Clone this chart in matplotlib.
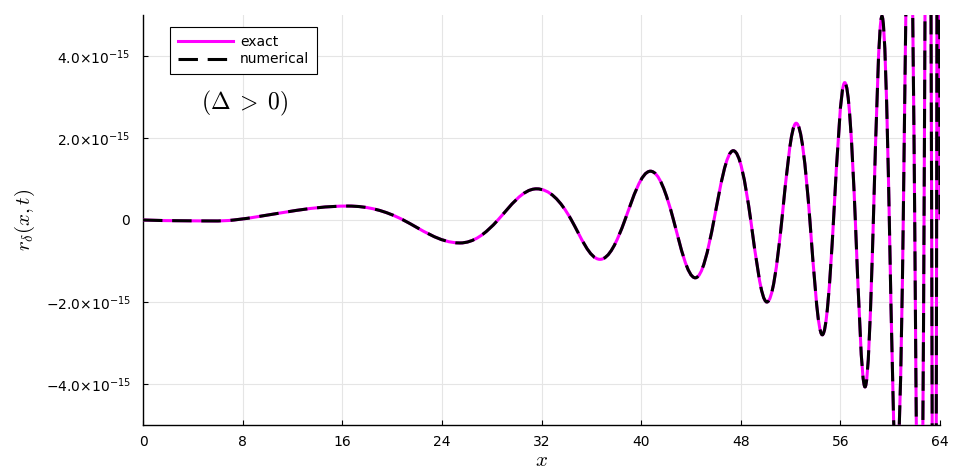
import math
import matplotlib
matplotlib.use("Agg")
import matplotlib.pyplot as plt
from matplotlib.path import Path
from matplotlib.patches import PathPatch
from matplotlib.lines import Line2D

plt.rcParams['font.family'] = ['DejaVu Sans']
plt.rcParams['lines.scale_dashes'] = False

# Key points: alternating zero crossings and extrema (units of 1e-15)
key_x = [0.0, 3.8, 7.3, 16.45, 20.9, 25.45, 28.5, 31.6, 34.4, 36.7, 38.7, 40.75,
         42.6, 44.35, 45.85, 47.4, 48.8, 50.1, 51.3, 52.45, 53.55, 54.55, 55.45,
         56.35, 57.2, 57.98, 58.65, 59.34, 59.93, 60.49, 61.05, 61.51, 61.97,
         62.35, 62.72, 63.03, 63.33, 63.53, 63.73, 63.87, 64.0]
key_y = [0.0, -0.02, 0.0, 0.34, 0.0, -0.56, 0.0, 0.76, 0.0, -0.96, 0.0, 1.19,
         0.0, -1.41, 0.0, 1.69, 0.0, -2.0, 0.0, 2.36, 0.0, -2.80, 0.0,
         3.35, 0.0, -4.07, 0.0, 4.97, 0.0, -6.0, 0.0, 8.5, 0.0,
         -11.0, 0.0, 15.0, 0.0, -18.0, 0.0, 20.0, 0.0]
scale = 1e-15

xticks = [0, 8, 16, 24, 32, 40, 48, 56, 64]
yticks = [-4e-15, -2e-15, 0, 2e-15, 4e-15]
ytick_labels = [r'$-4.0{\times}10^{-15}$', r'$-2.0{\times}10^{-15}$', r'$0$',
                r'$2.0{\times}10^{-15}$', r'$4.0{\times}10^{-15}$']


def smooth_path(xs, ys):
    # cubic Bezier segments through the key points; horizontal tangents at
    # extrema, sine-like (averaged) tangents at zero crossings
    n = len(xs)
    slopes = []
    for i in range(n):
        if ys[i] != 0.0:
            slopes.append(0.0)
            continue
        cand = []
        if i > 0:
            cand.append(-(math.pi / 2) * ys[i - 1] / (xs[i] - xs[i - 1]))
        if i < n - 1:
            cand.append((math.pi / 2) * ys[i + 1] / (xs[i + 1] - xs[i]))
        slopes.append(sum(cand) / len(cand))
    verts = [(xs[0], ys[0])]
    codes = [Path.MOVETO]
    for i in range(n - 1):
        x0, y0, x1, y1 = xs[i], ys[i], xs[i + 1], ys[i + 1]
        d = x1 - x0
        f0 = 0.3261 if y0 == 0.0 else 0.3619
        f1 = 0.3261 if y1 == 0.0 else 0.3619
        c1 = (x0 + f0 * d, y0 + f0 * d * slopes[i])
        c2 = (x1 - f1 * d, y1 - f1 * d * slopes[i + 1])
        verts += [c1, c2, (x1, y1)]
        codes += [Path.CURVE4] * 3
    return Path([(vx, vy * scale) for vx, vy in verts], codes)


fig = plt.figure(figsize=(9.56, 4.69), dpi=100)
ax = fig.add_axes([143 / 956, 1 - 425 / 469, 797 / 956, 410 / 469])

p = smooth_path(key_x, key_y)
ax.add_patch(PathPatch(p, fill=False, edgecolor='#ff00ff', lw=2.2, zorder=3))
ax.add_patch(PathPatch(p, fill=False, edgecolor='black', lw=2.2,
                       linestyle=(0, (14.0, 7.0)), zorder=4))

ax.set_xlim(0, 64)
ax.set_ylim(-5e-15, 5e-15)
ax.set_xticks(xticks)
ax.set_xticklabels([str(t) for t in xticks])
ax.set_yticks(yticks)
ax.set_yticklabels(ytick_labels)
for lab in ax.get_yticklabels():
    lab.set_math_fontfamily('dejavusans')

ax.tick_params(direction='in', length=3.5, width=0.8, labelsize=10,
               colors='black')
ax.tick_params(axis='x', pad=7)
ax.tick_params(axis='y', pad=9)
ax.grid(True, color='#e5e5e5', lw=0.8)
ax.set_axisbelow(True)
for s in ['top', 'right']:
    ax.spines[s].set_visible(False)
for s in ['left', 'bottom']:
    ax.spines[s].set_color('black')
    ax.spines[s].set_linewidth(1.0)

ax.set_xlabel(r'$x$', fontsize=15, math_fontfamily='cm', labelpad=1)
ax.set_ylabel(r'$r_\delta(x,t)$', fontsize=15, math_fontfamily='cm', labelpad=6)

ax.text(0.128, 0.785, r'$(\Delta\;>\;0)$', transform=ax.transAxes, fontsize=17,
        math_fontfamily='cm', ha='center', va='center')

handles = [Line2D([], [], color='#ff00ff', lw=2.2),
           Line2D([], [], color='black', lw=2.2, linestyle=(0, (14.0, 7.0)))]
leg = ax.legend(handles, ['exact', 'numerical'], loc='upper left',
                bbox_to_anchor=(0.034, 0.97), fontsize=10, frameon=True,
                fancybox=False, edgecolor='black', framealpha=1.0,
                handlelength=4.0, handletextpad=0.5, borderpad=0.55,
                labelspacing=0.25, borderaxespad=0)
leg.get_frame().set_linewidth(0.8)

fig.savefig('out.png', dpi=100)
